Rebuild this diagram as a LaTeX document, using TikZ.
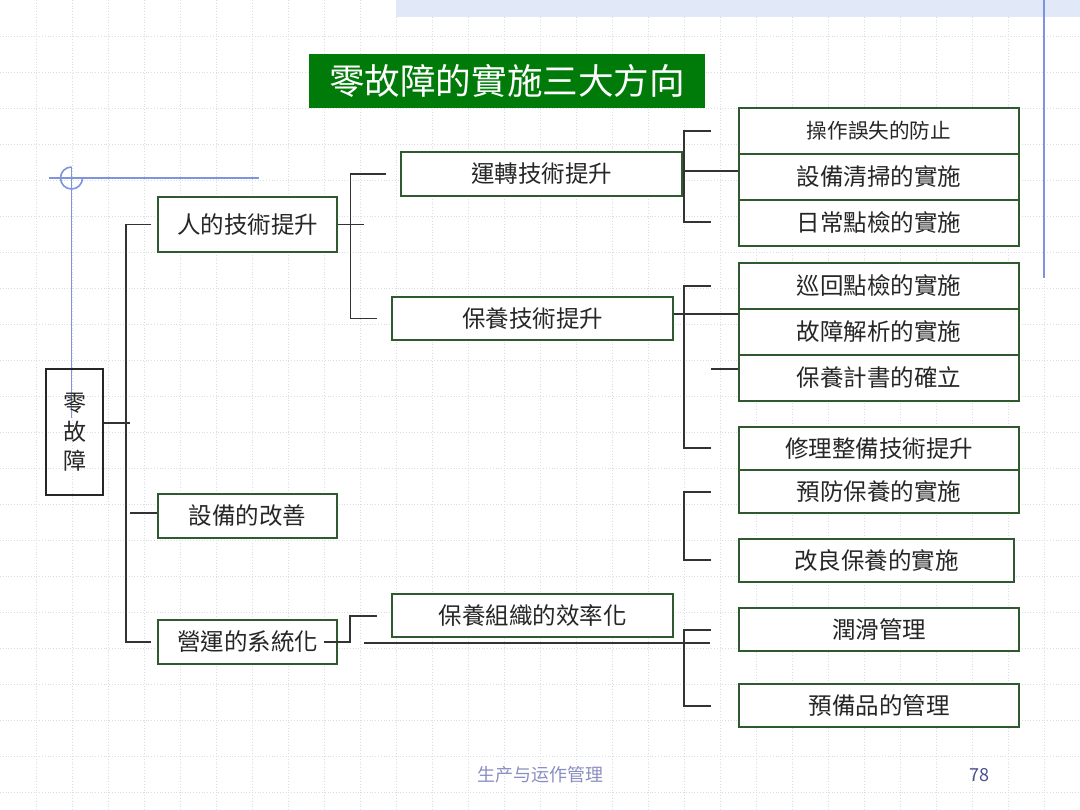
\documentclass[tikz,border=0pt]{standalone}
\usepackage{fontspec}
\newfontfamily\tcfont{Noto Sans CJK TC}
\newfontfamily\scfont{Noto Sans CJK SC}
\definecolor{boxgreen}{HTML}{2F5A2F}
\definecolor{titlegreen}{HTML}{007A08}
\definecolor{conn}{HTML}{333333}
\definecolor{gridc}{HTML}{D9DDE6}
\definecolor{blueln}{HTML}{7F93DE}
\definecolor{bandc}{HTML}{E1E8F8}
\definecolor{foot}{HTML}{8A8FC2}
\definecolor{pagenum}{HTML}{4B4F8F}
\tikzset{
  box/.style={draw=boxgreen, line width=1.3pt, fill=white, inner sep=0pt, align=center,
    font=\tcfont\fontsize{23.5}{28}\selectfont, text=black!85},
  rbox/.style={box, minimum width=280pt},
  cn/.style={draw=conn, line width=1.6pt},
  bl/.style={draw=blueln, line width=1.6pt},
}
\begin{document}
\begin{tikzpicture}[x=1pt,y=-1pt]
\useasboundingbox (0,0) rectangle (1080,810);
\fill[white] (0,0) rectangle (1080,810);
% grid
\foreach \i in {36,72,...,1079} \draw[gridc, dotted, line width=0.8pt] (\i,0) -- (\i,810);
\foreach \j in {36,72,...,809} \draw[gridc, dotted, line width=0.8pt] (0,\j) -- (1080,\j);
% top band
\fill[bandc] (396,0) rectangle (1080,17);
% blue decorations
\draw[bl] (1044,0) -- (1044,278);
\draw[bl] (49,178) -- (259,178);
\draw[bl] (71.5,167) -- (71.5,418);
\draw[bl] (71.5,167) arc[start angle=270, end angle=0, radius=11];

% title
\node[fill=titlegreen, minimum width=396pt, minimum height=54pt, inner sep=0pt,
  text=white, font=\tcfont\fontsize{35.6}{40}\selectfont] (title) at (507,81) {零故障的實施三大方向};

% root
\node[draw=black!85, line width=1.3pt, minimum width=57pt, minimum height=126pt, inner sep=0pt,
  align=center, font=\tcfont\fontsize{23}{29}\selectfont, text=black!85] (root) at (74.5,432) {零\\故\\障};

% level 1
\node[box, minimum width=179pt, minimum height=55pt] (ren) at (247.5,224.5) {人的技術提升};
\node[box, minimum width=179pt, minimum height=44pt] (sb) at (247.5,516) {設備的改善};
\node[box, minimum width=179pt, minimum height=44pt] (yy) at (247.5,642) {營運的系統化};

% level 2
\node[box, minimum width=281pt, minimum height=44pt] (yz) at (541.5,174) {運轉技術提升};
\node[box, minimum width=281pt, minimum height=43pt] (by) at (532.5,318.5) {保養技術提升};
\node[box, minimum width=281pt, minimum height=43pt] (bz) at (532.5,615.5) {保養組織的效率化};

% level 3
\node[rbox, minimum height=46pt, font=\tcfont\fontsize{20.6}{25}\selectfont] (r1) at (879,131) {操作誤失的防止};
\node[rbox, minimum height=46pt] (r2) at (879,177) {設備清掃的實施};
\node[rbox, minimum height=46pt] (r3) at (879,223) {日常點檢的實施};
\node[rbox, minimum height=46pt] (r4) at (879,286) {巡回點檢的實施};
\node[rbox, minimum height=46pt] (r5) at (879,332) {故障解析的實施};
\node[rbox, minimum height=46pt] (r6) at (879,378) {保養計書的確立};
\node[rbox, minimum height=43pt] (r7) at (879,448.5) {修理整備技術提升};
\node[rbox, minimum height=43pt] (r8) at (879,491.5) {預防保養的實施};
\node[box, minimum width=275pt, minimum height=43pt] (r9) at (876.5,560.5) {改良保養的實施};
\node[rbox, minimum height=43pt] (r10) at (879,629.5) {潤滑管理};
\node[rbox, minimum height=43pt] (r11) at (879,705.5) {預備品的管理};

% connectors: root
\coordinate (rs) at (130,423);
\draw[cn] (root.east |- rs) -- (rs);
\draw[cn] ([xshift=-6pt]ren.west) -- (126,224.5) -- (126,642) -- ([xshift=-6pt]yy.west);
\draw[cn] (130,513) -- (sb.west |- 130,513);

% ren children
\draw[cn] (ren.east) -- (364,224.5);
\draw[cn] ([xshift=-14pt]yz.west) -- (350.5,174) -- (350.5,318.5) -- ([xshift=-14pt]by.west);

% yz children
\draw[cn] (711,131) -- (684,131) -- (684,222) -- (711,222);
\draw[cn] (684,171) -- (r2.west |- 684,171);

% by children
\draw[cn] (by.east |- 673,314) -- (r5.west |- 739,314);
\draw[cn] (711,286) -- (684,286) -- (684,448) -- (711,448);
\draw[cn] (711,369) -- (r6.west |- 739,369);

% sb children
\draw[cn] (711,492) -- (684,492) -- (684,560) -- (711,560);

% yy children
\draw[cn] (324,642) -- (350,642) -- (350,616) -- ([xshift=-14pt]bz.west |- 378,616);
\draw[cn] (364,643) -- (710,643);
\draw[cn] (711,630) -- (684,630) -- (684,706) -- (711,706);

% footer
\node[text=foot, font=\scfont\fontsize{18}{22}\selectfont, inner sep=0pt] (ft) at (540,775) {生产与运作管理};
\node[text=pagenum, font=\scfont\fontsize{18}{22}\selectfont, inner sep=0pt] (pn) at (979,775) {78};
\end{tikzpicture}
\end{document}
